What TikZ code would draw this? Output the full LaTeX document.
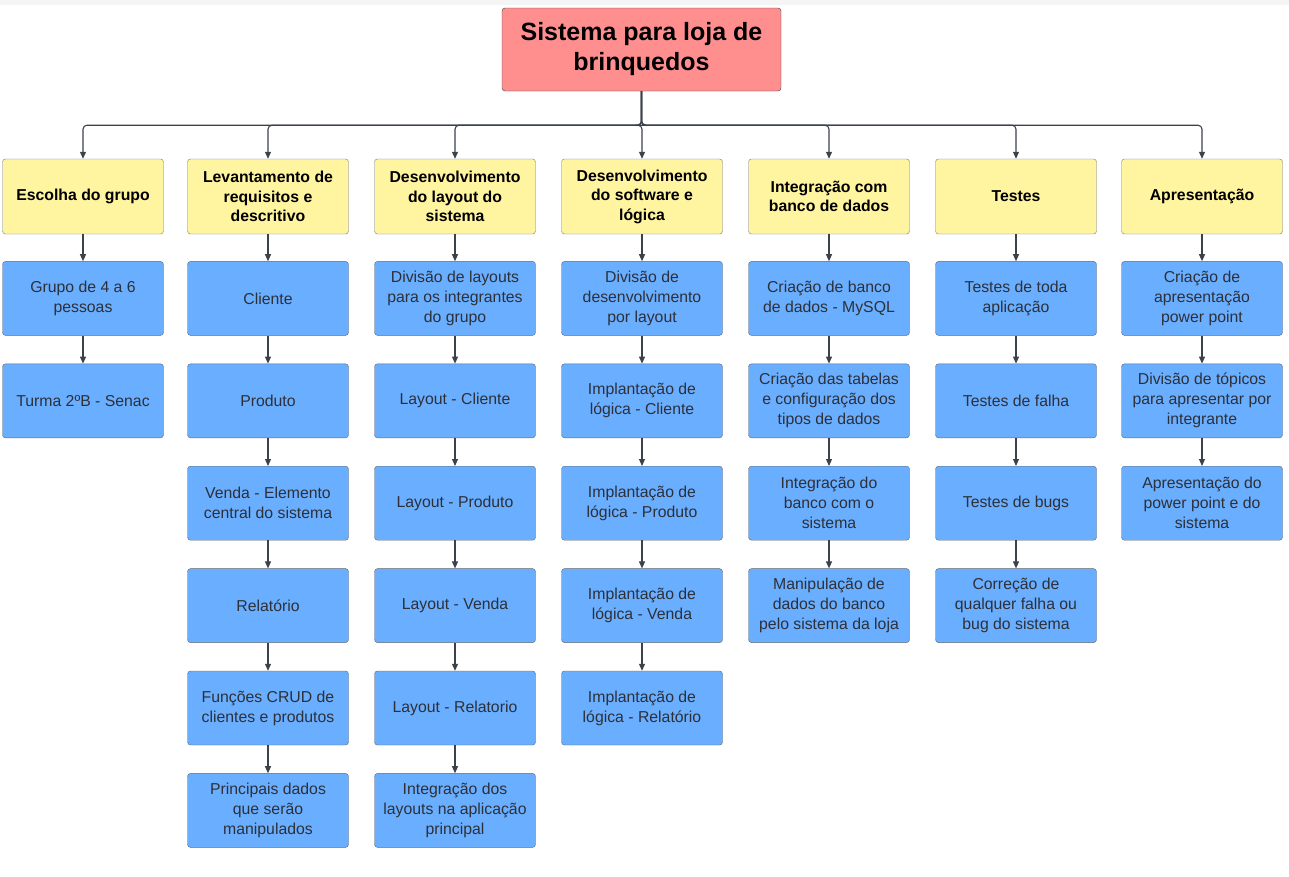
\documentclass[tikz,border=0pt]{standalone}
\usepackage{fontspec}
\setmainfont{Liberation Sans}
\usetikzlibrary{arrows.meta, positioning}
\definecolor{rootpink}{RGB}{255,143,143}
\definecolor{headyellow}{RGB}{255,244,160}
\definecolor{taskblue}{RGB}{106,174,255}
\definecolor{edgegray}{RGB}{60,66,76}
\definecolor{textgray}{RGB}{45,48,56}
\definecolor{bandgray}{RGB}{245,245,245}

\begin{document}
\begin{tikzpicture}[x=1pt, y=-1pt,
  rootbox/.style={rectangle, draw=edgegray, rounded corners=3pt, fill=rootpink,
              minimum width=279pt, minimum height=83pt, align=center,
              font=\fontsize{25}{30}\selectfont\bfseries},
  head/.style={rectangle, draw=edgegray!70, rounded corners=3pt, fill=headyellow,
              minimum width=161pt, minimum height=75pt, align=center, inner sep=2pt,
              font=\fontsize{15.8}{19.5}\selectfont\bfseries},
  task/.style={rectangle, draw=edgegray!80, rounded corners=3pt, fill=taskblue,
              minimum width=161pt, minimum height=74pt, align=center, inner sep=2pt,
              text=textgray, font=\fontsize{15.8}{20}\selectfont},
  arr/.style={-{Triangle[length=7pt, width=6pt]}, line width=1.1pt, draw=edgegray},
  bus/.style={arr, rounded corners=4pt},
  node distance=28pt,
]
\useasboundingbox (0,0) rectangle (1289,876);
\fill[bandgray] (0,0) rectangle (1289,5);

% root
\node[rootbox] (root) at (641.5,49.5) {Sistema para loja de\\brinquedos};

% phases
\node[head] (h1) at (83,196.5)   {Escolha do grupo};
\node[head] (h2) at (268,196.5)  {Levantamento de\\requisitos e\\descritivo};
\node[head] (h3) at (455,196.5)  {Desenvolvimento\\do layout do\\sistema};
\node[head] (h4) at (642,196.5)  {Desenvolvimento\\do software e\\lógica};
\node[head] (h5) at (829,196.5)  {Integração com\\banco de dados};
\node[head] (h6) at (1016,196.5) {Testes};
\node[head] (h7) at (1202,196.5) {Apresentação};

\foreach \h in {h1,h2,h3,h4,h5,h6,h7}
  \draw[bus] (root.south) -- ++(0,34) -| (\h.north);

% Escolha do grupo
\node[task, below=27pt of h1] (t11) {Grupo de 4 a 6\\pessoas};
\node[task, below=of t11]     (t12) {Turma 2ºB - Senac};

% Levantamento de requisitos
\node[task, below=27pt of h2] (t21) {Cliente};
\node[task, below=of t21]     (t22) {Produto};
\node[task, below=of t22]     (t23) {Venda - Elemento\\central do sistema};
\node[task, below=of t23]     (t24) {Relatório};
\node[task, below=of t24]     (t25) {Funções CRUD de\\clientes e produtos};
\node[task, below=of t25]     (t26) {Principais dados\\que serão\\manipulados};

% Layout
\node[task, below=27pt of h3] (t31) {Divisão de layouts\\para os integrantes\\do grupo};
\node[task, below=of t31]     (t32) {Layout - Cliente};
\node[task, below=of t32]     (t33) {Layout - Produto};
\node[task, below=of t33]     (t34) {Layout - Venda};
\node[task, below=of t34]     (t35) {Layout - Relatorio};
\node[task, below=of t35]     (t36) {Integração dos\\layouts na aplicação\\principal};

% Software e logica
\node[task, below=27pt of h4] (t41) {Divisão de\\desenvolvimento\\por layout};
\node[task, below=of t41]     (t42) {Implantação de\\lógica - Cliente};
\node[task, below=of t42]     (t43) {Implantação de\\lógica - Produto};
\node[task, below=of t43]     (t44) {Implantação de\\lógica - Venda};
\node[task, below=of t44]     (t45) {Implantação de\\lógica - Relatório};

% Banco de dados
\node[task, below=27pt of h5] (t51) {Criação de banco\\de dados - MySQL};
\node[task, below=of t51]     (t52) {Criação das tabelas\\e configuração dos\\tipos de dados};
\node[task, below=of t52]     (t53) {Integração do\\banco com o\\sistema};
\node[task, below=of t53]     (t54) {Manipulação de\\dados do banco\\pelo sistema da loja};

% Testes
\node[task, below=27pt of h6] (t61) {Testes de toda\\aplicação};
\node[task, below=of t61]     (t62) {Testes de falha};
\node[task, below=of t62]     (t63) {Testes de bugs};
\node[task, below=of t63]     (t64) {Correção de\\qualquer falha ou\\bug do sistema};

% Apresentacao
\node[task, below=27pt of h7] (t71) {Criação de\\apresentação\\power point};
\node[task, below=of t71]     (t72) {Divisão de tópicos\\para apresentar por\\integrante};
\node[task, below=of t72]     (t73) {Apresentação do\\power point e do\\sistema};

% arrows
\draw[arr] (h1) -- (t11);
\draw[arr] (t11) -- (t12);
\draw[arr] (h2) -- (t21);
\foreach \a/\b in {t21/t22,t22/t23,t23/t24,t24/t25,t25/t26}
  \draw[arr] (\a) -- (\b);
\draw[arr] (h3) -- (t31);
\foreach \a/\b in {t31/t32,t32/t33,t33/t34,t34/t35,t35/t36}
  \draw[arr] (\a) -- (\b);
\draw[arr] (h4) -- (t41);
\foreach \a/\b in {t41/t42,t42/t43,t43/t44,t44/t45}
  \draw[arr] (\a) -- (\b);
\draw[arr] (h5) -- (t51);
\foreach \a/\b in {t51/t52,t52/t53,t53/t54}
  \draw[arr] (\a) -- (\b);
\draw[arr] (h6) -- (t61);
\foreach \a/\b in {t61/t62,t62/t63,t63/t64}
  \draw[arr] (\a) -- (\b);
\draw[arr] (h7) -- (t71);
\foreach \a/\b in {t71/t72,t72/t73}
  \draw[arr] (\a) -- (\b);
\end{tikzpicture}
\end{document}
